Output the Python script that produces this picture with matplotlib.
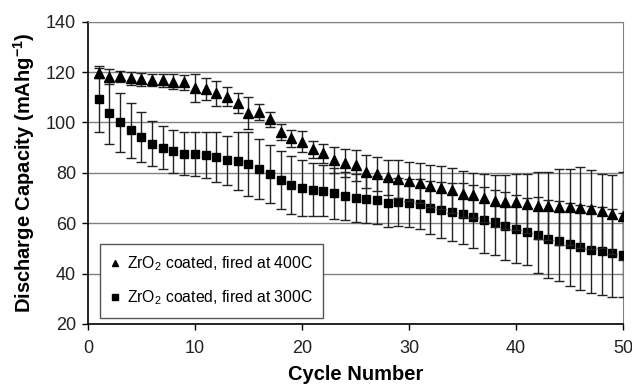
import matplotlib
matplotlib.use("Agg")
import matplotlib.pyplot as plt
import numpy as np

plt.rcParams['font.family'] = ['Liberation Sans', 'DejaVu Sans']
plt.rcParams['mathtext.fontset'] = 'custom'
plt.rcParams['mathtext.rm'] = 'Liberation Sans'
plt.rcParams['mathtext.bf'] = 'Liberation Sans:bold'

cycles = np.arange(1, 51)

# ZrO2 coated, fired at 400C
cap_400 = [119.5, 118.2, 118.3, 117.5, 117.1, 116.9, 116.7, 116.2, 116.0, 113.6,
           113.3, 111.5, 110.2, 107.6, 103.6, 104.0, 101.3, 96.1, 93.7, 92.4,
           89.3, 87.7, 85.1, 83.8, 82.9, 80.5, 79.6, 78.2, 77.5, 76.6,
           76.0, 74.6, 74.0, 73.0, 71.7, 71.0, 70.1, 68.8, 68.4, 68.4,
           67.8, 67.0, 66.8, 66.4, 66.4, 66.2, 65.6, 64.8, 63.5, 62.8]
err_400 = [2.0, 2.9, 2.2, 2.7, 2.7, 2.4, 2.6, 2.9, 3.0, 5.6,
           4.4, 4.8, 3.7, 4.0, 6.3, 3.2, 3.0, 3.2, 3.3, 4.3,
           3.4, 3.8, 5.0, 5.5, 6.0, 6.6, 6.8, 7.0, 7.5, 7.8,
           8.0, 8.3, 8.5, 8.8, 9.1, 9.0, 9.5, 10.4, 10.8, 11.0,
           11.7, 13.3, 13.5, 15.0, 15.0, 16.0, 15.7, 14.8, 15.7, 17.5]

# ZrO2 coated, fired at 300C
cap_300 = [109.3, 103.8, 100.1, 96.9, 94.3, 91.6, 90.0, 88.6, 87.6, 87.4,
           87.1, 86.2, 84.9, 84.6, 83.5, 81.4, 79.6, 77.3, 75.3, 74.0,
           73.3, 72.9, 71.8, 70.7, 70.1, 69.4, 69.2, 68.1, 68.4, 68.1,
           67.5, 66.2, 65.2, 64.5, 63.8, 62.5, 61.2, 60.3, 58.9, 57.7,
           56.6, 55.3, 53.8, 53.0, 51.7, 50.4, 49.5, 49.0, 48.2, 47.3]
err_300 = [13.0, 12.5, 11.7, 11.0, 10.0, 9.0, 8.5, 8.5, 8.5, 8.8,
           9.0, 9.8, 9.6, 11.4, 12.8, 12.0, 11.5, 11.5, 11.5, 11.0,
           10.5, 10.0, 10.0, 9.5, 9.5, 9.5, 9.5, 9.5, 9.5, 9.5,
           10.0, 10.5, 11.0, 11.5, 12.0, 12.5, 13.0, 13.0, 13.5, 13.5,
           13.3, 15.0, 15.5, 16.0, 16.5, 17.0, 17.3, 17.5, 17.5, 16.8]

fig = plt.figure(figsize=(6.32, 3.87), dpi=100)
ax = fig.add_axes([0.139, 0.163, 0.847, 0.781])

ax.errorbar(cycles, cap_300, yerr=err_300, fmt='s', color='black', ms=5.5,
            ecolor='#222222', elinewidth=1, capsize=3.5, capthick=1,
            label=r'ZrO$_2$ coated, fired at 300C', zorder=3)
ax.errorbar(cycles, cap_400, yerr=err_400, fmt='^', color='black', ms=6.5,
            ecolor='#222222', elinewidth=1, capsize=3.5, capthick=1,
            label=r'ZrO$_2$ coated, fired at 400C', zorder=4)

ax.set_xlim(0, 50)
ax.set_ylim(20, 140)
ax.set_xticks(range(0, 51, 10))
ax.set_yticks(range(20, 141, 20))
ax.grid(axis='y', color='#808080', linewidth=1)
ax.set_axisbelow(True)

for side in ['top', 'right']:
    ax.spines[side].set_color('#808080')
for side in ['left', 'bottom']:
    ax.spines[side].set_color('black')
    ax.spines[side].set_linewidth(1.2)

ax.tick_params(direction='out', length=4.5, width=1, labelsize=13,
               labelcolor='#222222', pad=4)
ax.tick_params(axis='x', pad=7)

ax.set_xlabel('Cycle Number', fontsize=14.5, fontweight='bold', labelpad=6)
ax.set_ylabel(r'Discharge Capacity (mAhg$^{\mathbf{-1}}$)', fontsize=14.5,
              fontweight='bold', labelpad=6)

handles, labels = ax.get_legend_handles_labels()
handles = [h[0] for h in handles][::-1]
labels = labels[::-1]
leg = ax.legend(handles, labels, loc='lower left', bbox_to_anchor=(0.0224, 0.02),
                borderaxespad=0, fontsize=11.3, frameon=True, fancybox=False,
                framealpha=1, edgecolor='#555555', markerscale=0.7,
                handlelength=0.5, handletextpad=0.5, borderpad=0.7,
                labelspacing=0.95)
leg.get_frame().set_linewidth(1)

fig.savefig('out.png', dpi=100)
